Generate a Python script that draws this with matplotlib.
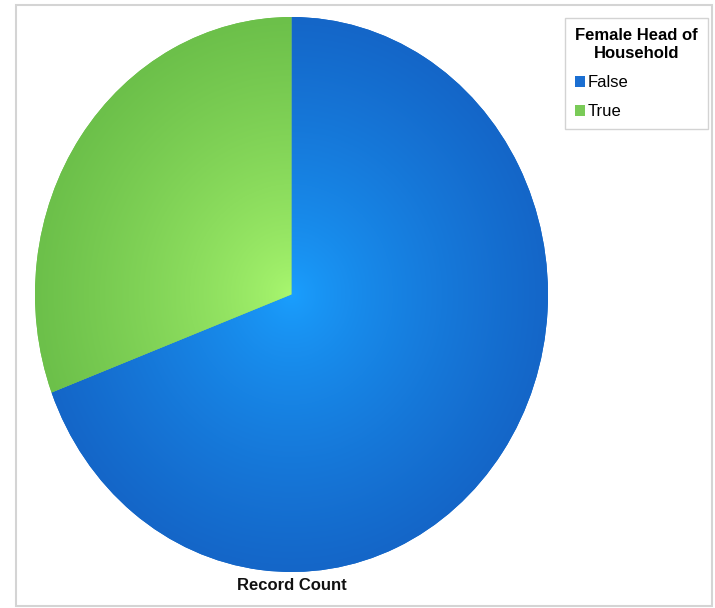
import numpy as np
import matplotlib
matplotlib.use("Agg")
import matplotlib.pyplot as plt
from matplotlib.colors import LinearSegmentedColormap
from matplotlib.patches import Rectangle, Patch

categories = ["False", "True"]
values = [69.25, 30.75]
legend_title = "Female Head of\nHousehold"
axis_label = "Record Count"

edge_colors = ["#1466c8", "#6cc04a"]
center_colors = ["#1aa0ff", "#aaf870"]
legend_colors = ["#1b6fd2", "#7acb58"]

W, H = 715, 608
fig = plt.figure(figsize=(W / 100, H / 100), dpi=100)
fig.patch.set_facecolor("white")

# outer border
fig.add_artist(Rectangle((16 / W, 2 / H), (712 - 16) / W, (603 - 2) / H,
                         transform=fig.transFigure, fill=False,
                         edgecolor="#d4d4d4", linewidth=1.5))

left, right, top, bottom = 35, 548, 17, 572
ax = fig.add_axes([left / W, 1 - bottom / H, (right - left) / W, (bottom - top) / H])
wedges, _ = ax.pie(values, startangle=90, counterclock=False, radius=1,
                   colors=edge_colors, wedgeprops=dict(linewidth=0))
ax.set_aspect("auto")
ax.set_xlim(-1, 1)
ax.set_ylim(-1, 1)
ax.axis("off")

n = 600
xs = np.linspace(-1, 1, n)
X, Y = np.meshgrid(xs, xs)
R = np.clip(np.sqrt(X ** 2 + Y ** 2), 0, 1) ** 0.75
for w, c0, c1 in zip(wedges, center_colors, edge_colors):
    cmap = LinearSegmentedColormap.from_list("g", [c0, c1])
    im = ax.imshow(R, cmap=cmap, vmin=0, vmax=1,
                   extent=(-1, 1, -1, 1), origin="lower", aspect="auto",
                   interpolation="bilinear", zorder=2)
    im.set_clip_path(w)

fig.text(292 / W, 1 - 585 / H, axis_label, ha="center", va="center",
         fontsize=12, fontweight="bold", family="Liberation Sans", color="#111111")

handles = [Patch(facecolor=c, edgecolor="none") for c in legend_colors]
leg = fig.legend(handles, categories, title=legend_title,
                 loc="upper right", bbox_to_anchor=(708 / W, 1 - 18 / H),
                 borderaxespad=0,
                 frameon=True, fancybox=False, handlelength=0.6, handleheight=0.6,
                 handletextpad=0.15, borderpad=0.6, labelspacing=0.85,
                 prop=dict(family="Liberation Sans", size=12))
leg.get_title().set_fontweight("bold")
leg.get_title().set_family("Liberation Sans")
leg.get_title().set_fontsize(12)
leg.get_title().set_multialignment("center")
leg.get_title().set_linespacing(1.25)
leg._legend_box.align = "left"
leg.get_frame().set_edgecolor("#c8c8c8")
leg.get_frame().set_linewidth(1.0)

fig.savefig("out.png", dpi=100, facecolor="white")
